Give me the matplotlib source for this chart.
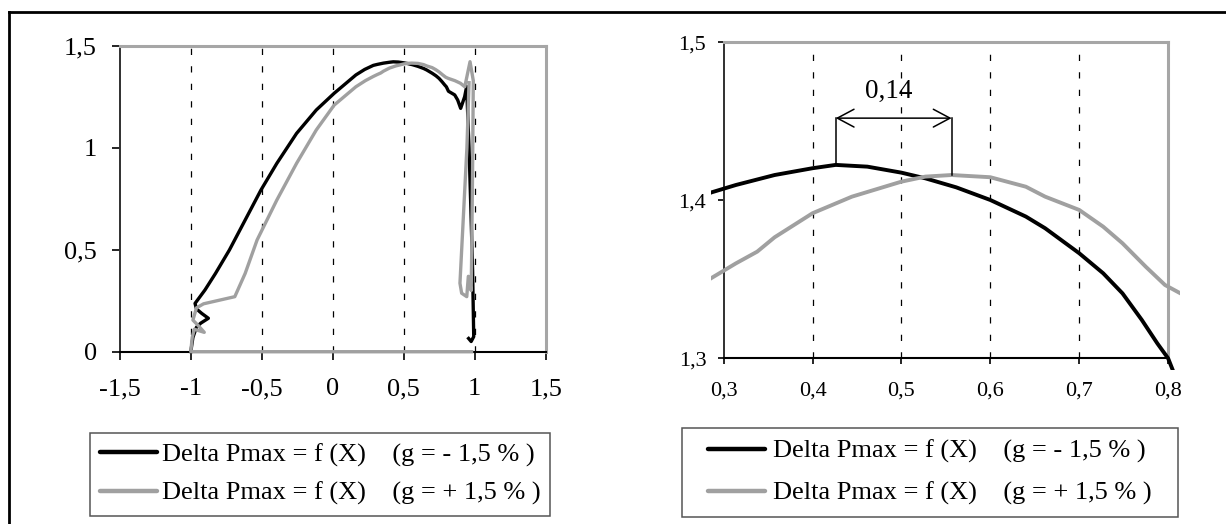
import matplotlib
matplotlib.use("Agg")
import matplotlib.pyplot as plt
from matplotlib.lines import Line2D
from matplotlib.patches import Rectangle
import numpy as np

plt.rcParams['font.family'] = ['Liberation Serif', 'DejaVu Serif']

# ---------------- data ----------------
labels = ["Delta Pmax = f (X)    (g = - 1,5 % )",
          "Delta Pmax = f (X)    (g = + 1,5 % )"]

# series g = -1.5 %
black_x = [-1.0, -0.985, -0.96, -0.93, -0.876, -0.923, -0.96, -0.97, -0.9, -0.826,
           -0.728, -0.617, -0.506, -0.394, -0.255, -0.116, 0.010, 0.163, 0.225,
           0.2857, 0.3139, 0.3574, 0.4, 0.4261, 0.4617, 0.5, 0.527, 0.5617, 0.6,
           0.64, 0.6617, 0.7, 0.727, 0.7487, 0.7704, 0.7878, 0.8, 0.8052, 0.815,
           0.859, 0.88, 0.901, 0.929, 0.943, 0.96, 0.971, 0.985, 0.993, 0.975, 0.957]
black_y = [0.0, 0.07, 0.12, 0.14, 0.164, 0.188, 0.21, 0.237, 0.303, 0.384,
           0.499, 0.646, 0.793, 0.924, 1.071, 1.186, 1.268, 1.358, 1.385,
           1.4049, 1.4097, 1.416, 1.4203, 1.4224, 1.4213, 1.4175, 1.4139, 1.4082, 1.4002,
           1.3897, 1.3823, 1.3665, 1.3538, 1.3411, 1.3243, 1.3095, 1.3, 1.2926, 1.278,
           1.26, 1.235, 1.194, 1.251, 1.301, 1.0, 0.744, 0.40, 0.074, 0.05, 0.065]

# series g = +1.5 %
gray_x = [0.978, -1.0, -0.99, -0.975, -0.905, -0.95, -0.985, -0.96, -0.91, -0.69,
          -0.617, -0.533, -0.394, -0.255, -0.116, 0.01, 0.163, 0.23,
          0.2857, 0.3139, 0.3378, 0.3574, 0.4, 0.4443, 0.5, 0.527, 0.5565, 0.6,
          0.64, 0.6617, 0.7, 0.727, 0.7487, 0.7748, 0.7965, 0.8139,
          0.86, 0.90, 0.93, 0.967, 0.99, 0.985, 0.978, 0.975, 0.955, 0.944,
          0.908, 0.896, 0.945, 0.96]
gray_y = [0.0, 0.0, 0.07, 0.11, 0.095, 0.13, 0.155, 0.215, 0.235, 0.27,
          0.384, 0.548, 0.744, 0.924, 1.088, 1.21, 1.30, 1.33,
          1.3506, 1.3601, 1.3675, 1.3766, 1.3918, 1.4023, 1.4118, 1.415, 1.416, 1.4146,
          1.4086, 1.4023, 1.3939, 1.3833, 1.3728, 1.358, 1.3464, 1.3411,
          1.33, 1.317, 1.30, 1.423, 1.33, 0.9, 0.45, 0.30, 0.37, 0.27,
          0.287, 0.336, 1.0, 1.32]

left_xticks = [-1.5, -1.0, -0.5, 0.0, 0.5, 1.0, 1.5]
left_xticklabels = ["-1,5", "-1", "-0,5", "0", "0,5", "1", "1,5"]
left_yticks = [0.0, 0.5, 1.0, 1.5]
left_yticklabels = ["0", "0,5", "1", "1,5"]
left_grid = [-1.0, -0.5, 0.0, 0.5, 1.0]

right_xticks = [0.3, 0.4, 0.5, 0.6, 0.7, 0.8]
right_xticklabels = ["0,3", "0,4", "0,5", "0,6", "0,7", "0,8"]
right_yticks = [1.3, 1.4, 1.5]
right_yticklabels = ["1,3", "1,4", "1,5"]
right_grid = [0.4, 0.5, 0.6, 0.7]
shift_label = "0,14"

# ---------------- figure ----------------
W, H = 1226, 524
fig = plt.figure(figsize=(W / 100, H / 100), dpi=100)

def fx(px):
    return px / W

def fy(py):
    return 1 - py / H

BLACK = "#000000"
GRAY = "#a0a0a0"
FRAME_GRAY = "#a6a6a6"
dash = (0, (5, 9))

# outer frame (left and top edges)
fig.add_artist(Line2D([fx(8.5), fx(8.5)], [0, fy(12.3)], color="black", lw=2.0,
                      transform=fig.transFigure))
fig.add_artist(Line2D([fx(8.5), 1.0], [fy(12.3), fy(12.3)], color="black", lw=2.0,
                      transform=fig.transFigure))

def style_axes(ax, tick_len, lab_size, xpad, ypad):
    for s in ("top", "right"):
        ax.spines[s].set_color(FRAME_GRAY)
        ax.spines[s].set_linewidth(2.2)
    ax.spines["bottom"].set_color("black")
    ax.spines["bottom"].set_linewidth(1.5)
    ax.spines["left"].set_color("#303030")
    ax.spines["left"].set_linewidth(1.4)
    ax.tick_params(axis="both", direction="out", length=tick_len, width=1.2,
                   color="black", labelsize=lab_size)
    ax.tick_params(axis="x", pad=xpad)
    ax.tick_params(axis="y", pad=ypad)

# ---- left chart ----
ax1 = fig.add_axes([fx(119.8), fy(351.7), fx(545.7) - fx(119.8), fy(46) - fy(351.7)])
ax1.set_xlim(-1.5, 1.5)
ax1.set_ylim(0, 1.5)
for g in left_grid:
    ax1.axvline(g, color="black", lw=0.9, linestyle=dash, zorder=1)
ax1.plot(black_x, black_y, color=BLACK, lw=2.4, zorder=3, solid_joinstyle="round",
         clip_on=False)
ax1.plot(gray_x, gray_y, color=GRAY, lw=2.4, zorder=4, solid_joinstyle="round",
         clip_on=False)
ax1.set_xticks(left_xticks)
ax1.set_xticklabels(left_xticklabels)
ax1.set_yticks(left_yticks)
ax1.set_yticklabels(left_yticklabels)
style_axes(ax1, 6, 19, 13, 10.5)

# ---- right chart ----
ax2 = fig.add_axes([fx(723.6), fy(358.3), fx(1168.1) - fx(723.6), fy(42.3) - fy(358.3)])
ax2.set_xlim(0.3, 0.8)
ax2.set_ylim(1.3, 1.5)
for g in right_grid:
    ax2.axvline(g, color="black", lw=0.9, linestyle=dash, zorder=1)
clip = Rectangle((0.2857, 1.2926), 0.8139 - 0.2857, 0.3, transform=ax2.transData)
l1, = ax2.plot(black_x, black_y, color=BLACK, lw=2.8, zorder=3, clip_on=True)
l2, = ax2.plot(gray_x, gray_y, color=GRAY, lw=2.8, zorder=4, clip_on=True)
l1.set_clip_path(clip)
l2.set_clip_path(clip)
ax2.set_xticks(right_xticks)
ax2.set_xticklabels(right_xticklabels)
ax2.set_yticks(right_yticks)
ax2.set_yticklabels(right_yticklabels)
style_axes(ax2, 4.5, 16, 12.5, 8)

# annotation: shift between maxima
bx = np.array(black_x); by = np.array(black_y)
gx = np.array(gray_x); gy = np.array(gray_y)
ib = int(np.argmax(by)); ig = int(np.argmax(np.where((gx > 0.3) & (gx < 0.8), gy, -1)))
xb, yb = bx[ib], by[ib]
xg, yg = gx[ig], gy[ig]
y_arrow = 1.452
ax2.plot([xb, xb], [yb, y_arrow], color="black", lw=1.1, zorder=5)
ax2.plot([xg, xg], [yg, y_arrow], color="black", lw=1.1, zorder=5)
ax2.annotate("", xy=(xb, y_arrow), xytext=(xg, y_arrow),
             arrowprops=dict(arrowstyle="<->,head_length=0.75,head_width=0.4",
                             lw=1.1, color="black", shrinkA=0, shrinkB=0,
                             mutation_scale=16), zorder=6)
ax2.text((xb + xg) / 2 - 0.006, 1.469, shift_label, ha="center", va="center",
         fontsize=19.5, zorder=6)

# ---- legends (drawn in figure pixel layout) ----
def draw_legend(box, line_x, rows_y, text_x, fs):
    x0, y0, x1, y1 = box
    fig.add_artist(Rectangle((fx(x0), fy(y1)), fx(x1) - fx(x0), fy(y0) - fy(y1),
                             transform=fig.transFigure, fill=False,
                             edgecolor="#555555", lw=1.1))
    for color, yy, lab in zip([BLACK, GRAY], rows_y, labels):
        fig.add_artist(Line2D([fx(line_x[0]), fx(line_x[1])], [fy(yy), fy(yy)],
                              color=color, lw=3.2, solid_capstyle="round",
                              transform=fig.transFigure))
        fig.text(fx(text_x), fy(yy), lab, ha="left", va="center_baseline",
                 fontsize=fs)

draw_legend((90, 433.3, 550.4, 516), (100, 157), (452.3, 490.5), 162.5, 19)
draw_legend((681.7, 428.3, 1178, 516.5), (708.3, 765), (448.8, 490.5), 773, 19)

fig.savefig("out.png", dpi=100)
